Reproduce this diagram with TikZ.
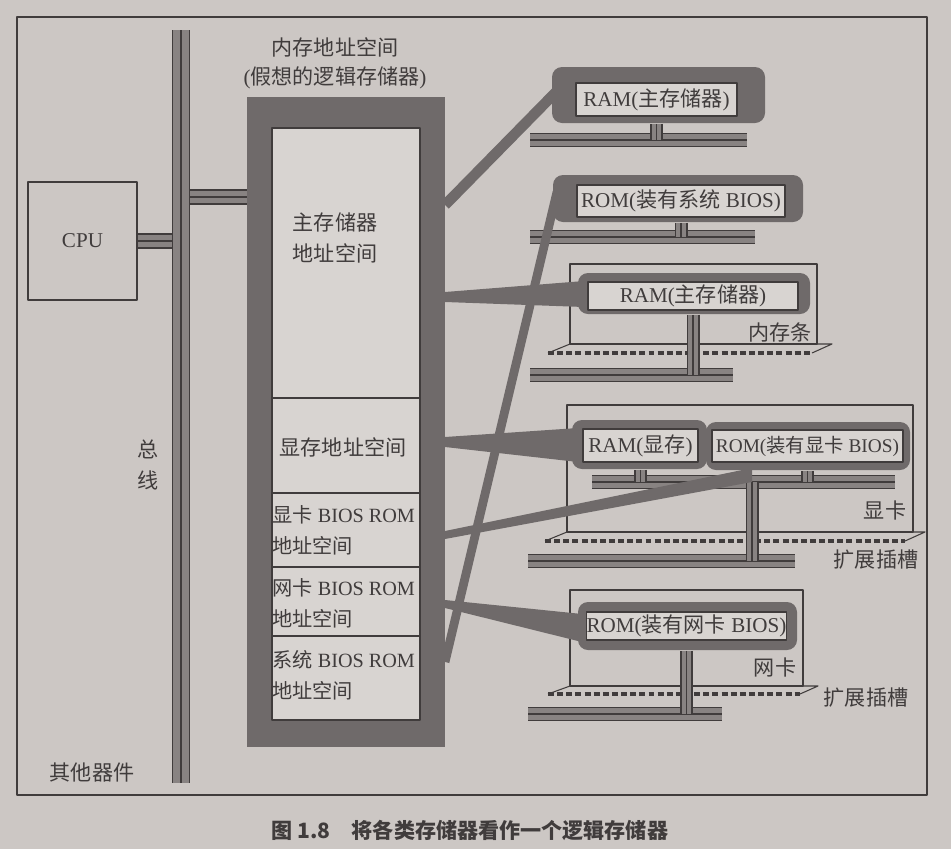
\documentclass[tikz,border=0pt]{standalone}
\usepackage{fontspec}
\setmainfont{Liberation Serif}
\newfontfamily\cjk{Noto Sans CJK SC}
\usetikzlibrary{calc}
\definecolor{MemPaper}{RGB}{204,199,196}
\definecolor{MemInk}{RGB}{64,60,60}
\definecolor{MemShade}{RGB}{111,106,106}
\definecolor{MemBus}{RGB}{136,131,130}
\definecolor{MemCell}{RGB}{216,212,209}
\newcommand\zh[1]{{\cjk #1}}
% a bus: outer lines plus one line in the middle
\newcommand\Bus[3][]{%
    \draw[mem/bus,#1] #2 -- #3;
    \draw[mem/busmid] #2 -- #3;}
% a tapered band from a port on the memory to a chip
\newcommand\Wedge[4]{%
    \fill[mem/wedge] ($(#1)+(0,-#3)$) -- ($(#2)+(0,-#4)$)
        -- ($(#2)+(0,#4)$) -- ($(#1)+(0,#3)$) -- cycle;}
\tikzset{
    mem/diagram/.style={
        x=0.02cm, y=-0.02cm,
        font=\fontsize{12}{18}\selectfont,
        text=MemInk,
        line join=round
    },
    mem/frame/.style={draw=MemInk, line width=1.5pt},
    mem/bus/.style={
        draw=MemInk, line width=1.1pt,
        double=MemBus, double distance=6.3pt
    },
    mem/busmid/.style={draw=MemInk, line width=0.9pt},
    mem/box/.style={draw=MemInk, line width=1pt, inner sep=0pt},
    mem/outer/.style={fill=MemShade, draw=none, inner sep=0pt},
    mem/section/.style={
        fill=MemCell, draw=MemInk, line width=1pt,
        inner sep=0pt, minimum width=2.96cm
    },
    mem/chip/.style={
        fill=MemCell, draw=MemInk, line width=0.9pt,
        inner sep=0pt, minimum height=0.64cm
    },
    mem/halo/.style={fill=MemShade, rounded corners=0.2cm},
    mem/link/.style={draw=MemShade, line cap=butt},
    mem/wedge/.style={fill=MemShade},
    mem/board/.style={draw=MemInk, line width=1pt, inner sep=0pt},
    mem/slot/.style={draw=MemInk, line width=0.6pt},
    mem/pins/.style={draw=MemInk, line width=2.4pt, dash pattern=on 3.4pt off 1.8pt}
}

\begin{document}
\begin{tikzpicture}[mem/diagram]
    \fill[MemPaper] (0,0) rectangle (951,849);
    \useasboundingbox (0,0) rectangle (951,849);
    \draw[mem/frame] (17,17) rectangle (927,795);

    % ports on the memory box and on the chips
    \coordinate (pmain1) at (445,205);
    \coordinate (pmain2) at (445,297);
    \coordinate (pvram)  at (445,442);
    \coordinate (pvbios) at (445,535);
    \coordinate (pnbios) at (445,604);
    \coordinate (psbios) at (445,662);
    \coordinate (qram1) at (558,90);
    \coordinate (qrom1) at (557,192);
    \coordinate (qram2) at (584,294);
    \coordinate (qram3) at (578,445);
    \coordinate (qrom3) at (752,475);
    \coordinate (qrom4) at (582,628);
    % bus ends
    \coordinate (bustop) at (181,30);
    \coordinate (busbot) at (181,783);
    \coordinate (memport) at (247,197);
    \coordinate (b1w) at (530,140);  \coordinate (b1e) at (747,140);
    \coordinate (b2w) at (530,237);  \coordinate (b2e) at (755,237);
    \coordinate (b3w) at (530,375);  \coordinate (b3e) at (733,375);
    \coordinate (bvw) at (592,482);  \coordinate (bve) at (895,482);
    \coordinate (b4w) at (528,561);  \coordinate (b4e) at (795,561);
    \coordinate (b5w) at (528,714);  \coordinate (b5e) at (722,714);
    \coordinate (vgaport) at (752,482);

    % CPU and system bus
    \node[mem/box, minimum width=2.18cm, minimum height=2.36cm] (cpu) at (82.5,241) {CPU};
    \Bus[double distance=7.2pt]{(cpu.east)}{(cpu.east -| bustop)}
    \Bus[double distance=7.2pt]{(memport)}{(memport -| bustop)}
    \Bus[double distance=8.6pt]{(bustop)}{(busbot)}
    \node[align=center] (buslbl) at (148,465) {\zh{总}\\\zh{线}};
    \node (other) at (92,772) {\zh{其他器件}};

    % memory address space
    \node (title) at (335,47) {\zh{内存地址空间}};
    \node (subtitle) at (335,78) {(\zh{假想的逻辑存储器})};
    \node[mem/outer, minimum width=3.96cm, minimum height=13cm] (mem) at (346,422) {};
    \node[mem/section, minimum height=5.4cm]  (main)  at (346,263) {};
    \node[mem/section, minimum height=1.9cm]  (vram)  at (346,445.5) {};
    \node[mem/section, minimum height=1.48cm] (vbios) at (346,530) {};
    \node[mem/section, minimum height=1.38cm] (nbios) at (346,601.5) {};
    \node[mem/section, minimum height=1.68cm] (sbios) at (346,678) {};
    \node[align=center] (mainlbl) at (335,238) {\zh{主存储器}\\\zh{地址空间}};
    \node (vramlbl) at (343,447) {\zh{显存地址空间}};
    \begin{scope}[every node/.style={align=left, anchor=west, inner sep=0pt,
                  font=\fontsize{11.5}{17.6}\selectfont}]
        \node (vbioslbl) at (272,530) {\zh{显卡} BIOS ROM\\\zh{地址空间}};
        \node (nbioslbl) at (272,603) {\zh{网卡} BIOS ROM\\\zh{地址空间}};
        \node (sbioslbl) at (272,675) {\zh{系统} BIOS ROM\\\zh{地址空间}};
    \end{scope}

    % boards and slots
    \node[mem/board, minimum width=4.94cm, minimum height=1.6cm]  (dimm) at (693.5,304) {};
    \node[mem/board, minimum width=6.92cm, minimum height=2.54cm] (vga)  at (740,468.5) {};
    \node[mem/board, minimum width=4.66cm, minimum height=1.92cm] (nic)  at (686.5,638) {};
    \draw[mem/slot] (548,353) -- (570,344) -- (832,344) -- (812,353);
    \draw[mem/pins] (548,353) -- (812,353);
    \draw[mem/slot] (545,541) -- (567,532) -- (925,532) -- (905,541);
    \draw[mem/pins] (545,541) -- (905,541);
    \draw[mem/slot] (548,694) -- (570,686) -- (818,686) -- (800,694);
    \draw[mem/pins] (548,694) -- (800,694);

    % buses on the right
    \Bus{(b1w)}{(b1e)}
    \Bus{(b2w)}{(b2e)}
    \Bus{(b3w)}{(b3e)}
    \Bus{(bvw)}{(bve)}
    \Bus{(b4w)}{(b4e)}
    \Bus{(b5w)}{(b5e)}
    \Bus[double distance=5.2pt]{(vgaport)}{(vgaport |- b4w)}

    % mapping of the address ranges
    \draw[mem/link, line width=6pt] (pmain1) -- (qram1);
    \draw[mem/link, line width=5pt] (psbios) -- (qrom1);
    \Wedge{pmain2}{qram2}{5}{13}
    \Wedge{pvram}{qram3}{5}{17}
    \Wedge{pvbios}{qrom3}{4}{7}
    \Wedge{pnbios}{qrom4}{4}{14}

    % chips
    \fill[mem/halo] (552,67) rectangle (765,123);
    \fill[mem/halo] (553,175) rectangle (803,222);
    \fill[mem/halo] (578,273) rectangle (810,314);
    \fill[mem/halo] (572,420) rectangle (707,469);
    \fill[mem/halo] (706,422) rectangle (910,470);
    \fill[mem/halo] (578,602) rectangle (797,650);
    \node[mem/chip, minimum width=3.22cm, minimum height=0.66cm] (ram1) at (656.5,99.5) {RAM(\zh{主存储器})};
    \node[mem/chip, minimum width=4.16cm] (rom1) at (681,201) {ROM(\zh{装有系统} BIOS)};
    \node[mem/chip, minimum width=4.2cm, minimum height=0.56cm] (ram2) at (693,296) {RAM(\zh{主存储器})};
    \node[mem/chip, minimum width=2.3cm, minimum height=0.66cm] (ram3) at (640.5,445.5) {RAM(\zh{显存})};
    \node[mem/chip, minimum width=3.82cm, font=\fontsize{11}{13}\selectfont] (rom3) at (807.5,446) {ROM(\zh{装有显卡} BIOS)};
    \node[mem/chip, minimum width=3.94cm, minimum height=0.56cm] (rom4) at (686.5,626) {ROM(\zh{装有网卡} BIOS)};
    \Bus[double distance=5.2pt]{($(ram1.south)+(0,7)$)}{(ram1.south |- b1w)}
    \Bus[double distance=5.2pt]{($(rom1.south)+(0,5)$)}{(rom1.south |- b2w)}
    \Bus[double distance=5.2pt]{($(ram2.south)+(0,4)$)}{(ram2.south |- b3w)}
    \Bus[double distance=5.2pt]{($(ram3.south)+(0,7)$)}{(ram3.south |- bvw)}
    \Bus[double distance=5.2pt]{($(rom3.south)+(0,8)$)}{(rom3.south |- bvw)}
    \Bus[double distance=5.2pt]{($(rom4.south)+(0,10)$)}{(rom4.south |- b5w)}

    % labels
    \node (dimmlbl) at (780,332) {\zh{内存条}};
    \node (vgalbl) at (885,510) {\zh{显卡}};
    \node (niclbl) at (775,667) {\zh{网卡}};
    \node (slotlbl1) at (876,560) {\zh{扩展插槽}};
    \node (slotlbl2) at (866,698) {\zh{扩展插槽}};
    \node[font=\cjk\bfseries\fontsize{12}{14}\selectfont] (caption) at (470,830) {图 1.8\quad 将各类存储器看作一个逻辑存储器};
\end{tikzpicture}
\end{document}
